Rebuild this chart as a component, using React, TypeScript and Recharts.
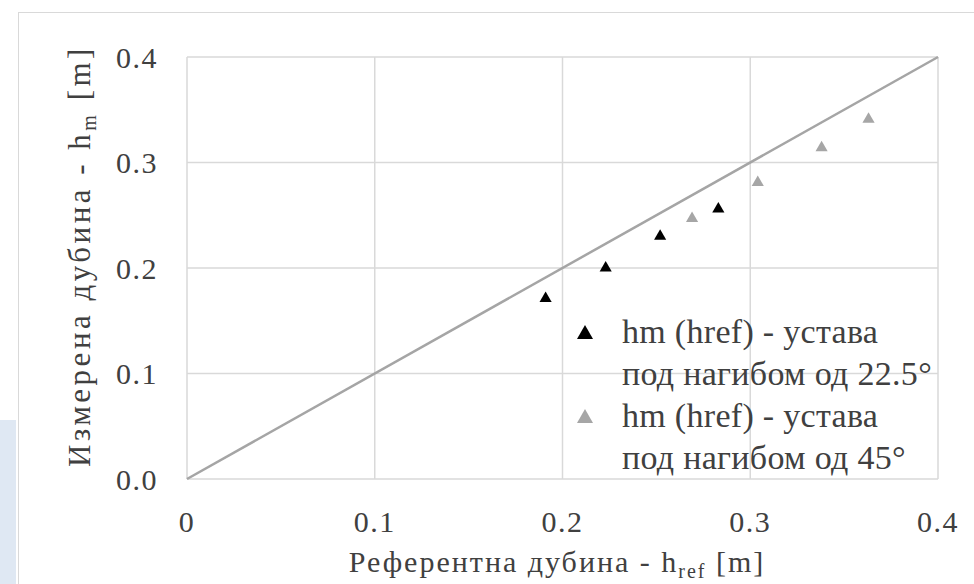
import { ScatterChart, Scatter, XAxis, YAxis, ZAxis, CartesianGrid } from 'recharts'

const FONT = '"Liberation Serif", "Times New Roman", serif'
const TEXT = '#404040'

const ticksX = [0, 0.1, 0.2, 0.3, 0.4]
const ticksY = [0, 0.1, 0.2, 0.3, 0.4]

// hm(href) - 22.5 deg
const serie225 = [
  { x: 0.191, y: 0.171 },
  { x: 0.223, y: 0.2 },
  { x: 0.252, y: 0.23 },
  { x: 0.283, y: 0.256 },
]

// hm(href) - 45 deg
const serie45 = [
  { x: 0.269, y: 0.247 },
  { x: 0.304, y: 0.281 },
  { x: 0.338, y: 0.314 },
  { x: 0.363, y: 0.341 },
]

// 1:1 line
const linija = [
  { x: 0, y: 0 },
  { x: 0.4, y: 0.4 },
]

const legendItems = [
  { c: '#000000', l1: 'hm (href) - устава', l2: 'под нагибом од 22.5°' },
  { c: '#a6a6a6', l1: 'hm (href) - устава', l2: 'под нагибом од 45°' },
]

const Tri = ({ color }: { color: string }) => (
  <svg width={18} height={16} style={{ display: 'block' }}>
    <polygon points="9,1 17,15 1,15" fill={color} />
  </svg>
)

const tickStyle = { fontSize: 30, fill: TEXT, letterSpacing: 1.5 }

export default function App() {
  return (
    <div className="chart-root" style={{ position: 'absolute', left: 0, top: 0, width: 974, height: 584, background: '#fff', overflow: 'hidden' }}>
      <style>{'.chart-root, .chart-root * { font-family: "Liberation Serif", "Times New Roman", serif !important; }'}</style>
      <div style={{ position: 'absolute', left: 0, top: 420, width: 16, height: 164, background: '#dfe8f3' }} />
      <div style={{ position: 'absolute', left: 18, top: 12, width: 960, height: 590, border: '1px solid #d9d9d9' }} />
      <ScatterChart width={974} height={584} margin={{ top: 57, right: 36, bottom: 10, left: 87 }} style={{ position: 'absolute', left: 0, top: 0, fontFamily: FONT }}>
        <CartesianGrid stroke="#d9d9d9" strokeWidth={1.5} />
        <XAxis
          type="number"
          dataKey="x"
          domain={[0, 0.4]}
          ticks={ticksX}
          height={95}
          axisLine={false}
          tickLine={false}
          tickSize={0}
          tickMargin={32}
          tickFormatter={v => (v === 0 ? '0' : v.toFixed(1))}
          tick={tickStyle}
          label={{
            content: () => (
              <text x={557} y={572} textAnchor="middle" fontSize={30} letterSpacing={2} fill={TEXT}>
                Референтна дубина - h<tspan fontSize={20} dy={6}>ref</tspan><tspan dy={-6}> [m]</tspan>
              </text>
            ),
          }}
        />
        <YAxis
          type="number"
          dataKey="y"
          domain={[0, 0.4]}
          ticks={ticksY}
          width={100}
          axisLine={false}
          tickLine={false}
          tickSize={0}
          tickMargin={29}
          tickFormatter={v => v.toFixed(1)}
          tick={tickStyle}
          label={{
            content: () => (
              <text x={90} y={256} textAnchor="middle" fontSize={31} letterSpacing={3.5} fill={TEXT} transform="rotate(-90 90 256)">
                Измерена дубина - h<tspan fontSize={20} dy={6}>m</tspan><tspan dy={-6}> [m]</tspan>
              </text>
            ),
          }}
        />
        <ZAxis range={[140, 140]} />
        <Scatter data={linija} line={{ stroke: '#a5a5a5', strokeWidth: 2.5 }} shape={() => null} isAnimationActive={false} legendType="none" />
        <Scatter data={serie225} shape="triangle" fill="#000000" isAnimationActive={false} />
        <Scatter data={serie45} shape="triangle" fill="#a6a6a6" isAnimationActive={false} />
      </ScatterChart>
      <div style={{ position: 'absolute', left: 576, top: 311, fontSize: 34, letterSpacing: 0.3, color: TEXT, lineHeight: '42px' }}>
        {legendItems.map(e => (
          <div key={e.l2} style={{ display: 'flex' }}>
            <div style={{ width: 46, paddingTop: 13 }}><Tri color={e.c} /></div>
            <div>
              <div>{e.l1}</div>
              <div>{e.l2}</div>
            </div>
          </div>
        ))}
      </div>
    </div>
  )
}
